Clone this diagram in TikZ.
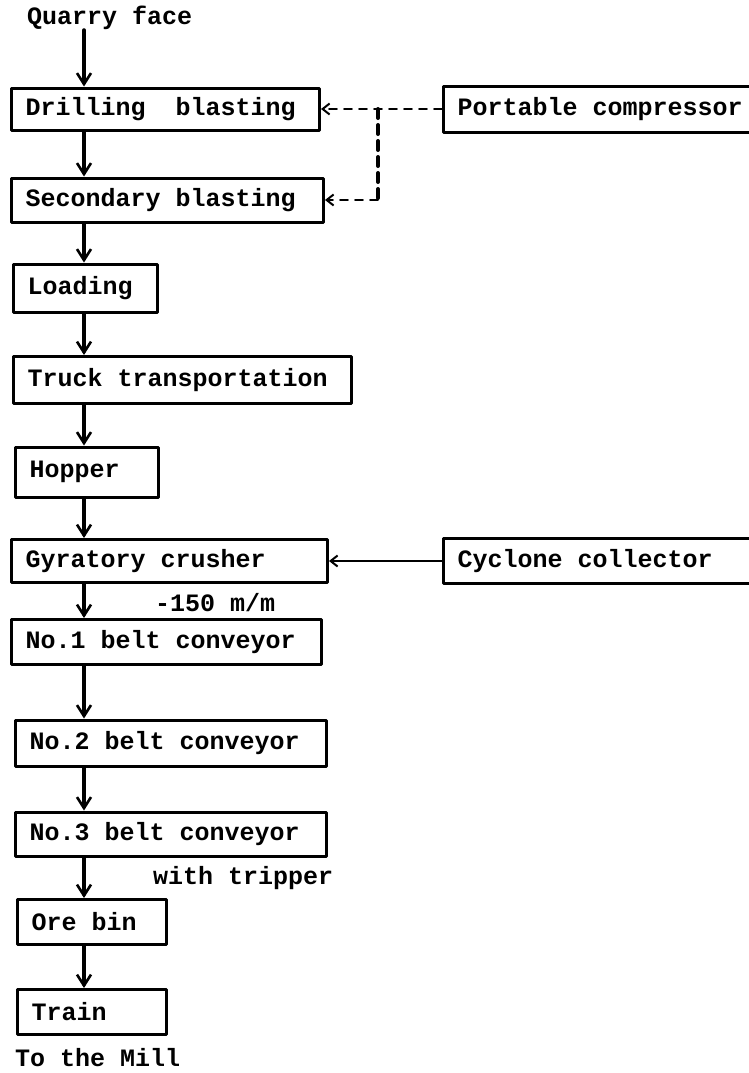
\documentclass[tikz,border=0pt]{standalone}
\usepackage{fontspec}
\setmonofont{Liberation Mono}
\usetikzlibrary{arrows.meta}

\tikzset{
  stage/.style={draw, line width=3pt, anchor=west, align=left,
    inner xsep=14pt, inner ysep=0pt, minimum height=45pt,
    font=\ttfamily\bfseries\fontsize{25}{28}\selectfont,
    execute at begin node={\spaceskip=15pt\relax\xspaceskip=15pt\relax}},
  note/.style={anchor=west, inner sep=0pt,
    font=\ttfamily\bfseries\fontsize{25}{28}\selectfont},
  flow/.style={line width=3.6pt, -{Straight Barb[length=11pt,width=14pt,line width=2.6pt]}},
  feed/.style={line width=1.8pt, -{Straight Barb[length=7pt,width=11pt,line width=2pt]}}
}

\begin{document}
\begin{tikzpicture}[
    x=1pt, y=-1pt,
    line cap=round,
    line join=round
]
\useasboundingbox (0,0) rectangle (749,1073);

% 1. Main process line
\coordinate (spine) at (84,0);
\node[note] (quarry) at (27,18) {Quarry face};
\node[stage, text width=280pt, minimum height=42pt] (drill) at (10,109) {Drilling\ \ blasting};
\node[stage, text width=284pt, minimum height=44pt] (second) at (10,200) {Secondary blasting};
\node[stage, text width=116pt, minimum height=48pt] (loading) at (12,288) {Loading};
\node[stage, text width=310pt, minimum height=47pt] (truck) at (12,380) {Truck transportation};
\node[stage, text width=115pt, minimum height=50pt] (hopper) at (14,472) {Hopper};
\node[stage, text width=288pt, minimum height=43pt] (gyratory) at (10,561) {Gyratory crusher};
\node[stage, text width=282pt] (belt1) at (10,642) {No.1 belt conveyor};
\node[stage, text width=283pt, minimum height=46pt] (belt2) at (14,743) {No.2 belt conveyor};
\node[stage, text width=283pt, minimum height=44pt] (belt3) at (14,834) {No.3 belt conveyor};
\node[stage, text width=121pt] (orebin) at (16,922) {Ore bin};
\node[stage, text width=121pt] (train) at (16,1012) {Train};
\node[note] (mill) at (15,1058) {To the Mill};

% 2. Side equipment
\node[stage, text width=292pt, minimum height=46pt] (compressor) at (442,109) {Portable compressor};
\node[stage, text width=292pt] (cyclone) at (442,561) {Cyclone collector};

% 3. Notes
\node[note] (size) at (155,603) {-150 m/m};
\node[note] (tripper) at (153,878) {with tripper};

% 4. Routing
\draw[flow] (quarry.south -| spine) -- (drill.north -| spine);
\draw[flow] (drill.south -| spine) -- (second.north -| spine);
\draw[flow] (second.south -| spine) -- (loading.north -| spine);
\draw[flow] (loading.south -| spine) -- (truck.north -| spine);
\draw[flow] (truck.south -| spine) -- (hopper.north -| spine);
\draw[flow] (hopper.south -| spine) -- (gyratory.north -| spine);
\draw[flow] (gyratory.south -| spine) -- (belt1.north -| spine);
\draw[flow] (belt1.south -| spine) -- (belt2.north -| spine);
\draw[flow] (belt2.south -| spine) -- (belt3.north -| spine);
\draw[flow] (belt3.south -| spine) -- (orebin.north -| spine);
\draw[flow] (orebin.south -| spine) -- (train.north -| spine);

\coordinate (split) at (378,0);
\draw[feed, dash pattern=on 8pt off 7pt] (compressor.west) -- (drill.east);
\draw[line width=4pt, dash pattern=on 9pt off 7pt] (split |- drill.east) -- (split |- second.east);
\draw[feed, dash pattern=on 8pt off 7pt] (split |- second.east) -- (second.east);
\draw[feed] (cyclone.west) -- (gyratory.east);
\end{tikzpicture}
\end{document}
